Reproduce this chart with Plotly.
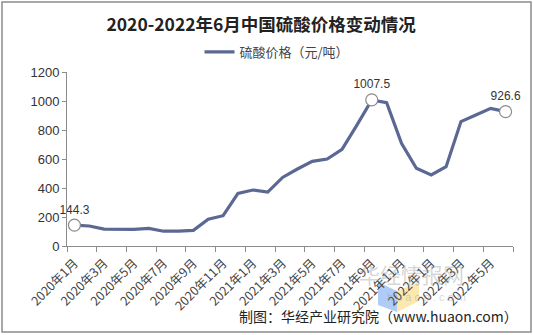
import plotly.graph_objects as go

# Monthly sulfuric acid price, Jan 2020 - Jun 2022 (yuan/ton)
months = [f"{y}年{m}月" for y in (2020, 2021, 2022) for m in range(1, 13)][:30]
prices = [144.3, 138, 116, 115, 115, 121, 102, 102, 108, 184,
          209, 363, 386, 372, 473, 531, 584, 600, 667, 834,
          1007.5, 988, 708, 536, 490, 547, 858, 903, 949, 926.6]
labelled_idx = [0, 20, 29]

x_idx = list(range(len(months)))
tick_idx = x_idx[::2]
tick_text = [months[i] for i in tick_idx]

LINE = "#5b6894"
TXT = "#333333"
AX = "#8c8c8c"

# plot area in pixels: x 67..513, y 72..246
L, R, T, B = 67, 513, 72, 246


def px(x):
    return (x - L) / (R - L)


def py(y):
    return (B - y) / (B - T)


fig = go.Figure()
fig.add_trace(go.Scatter(
    x=x_idx, y=prices, mode="lines", name="硫酸价格（元/吨）",
    line=dict(color=LINE, width=3.2), hoverinfo="skip",
))
fig.add_trace(go.Scatter(
    x=[x_idx[i] for i in labelled_idx], y=[prices[i] for i in labelled_idx],
    mode="markers+text", showlegend=False, cliponaxis=False,
    marker=dict(size=12, color="white", line=dict(color="#8a8a8a", width=1.2)),
    text=[f"{prices[i]:g}" for i in labelled_idx], textposition="top center",
    textfont=dict(family="Liberation Sans, Arial", size=12, color=TXT),
))

fig.update_layout(
    width=533, height=335,
    margin=dict(l=L, r=533 - R, t=T, b=335 - B),
    paper_bgcolor="white", plot_bgcolor="white",
    title=dict(text="<b>2020-2022年6月中国硫酸价格变动情况</b>", x=0.49, xanchor="center",
               y=1 - 25 / 335, yanchor="middle",
               font=dict(family="Noto Sans CJK SC", size=17.5, color="#222222")),
    legend=dict(orientation="h", x=px(277), xanchor="center", y=py(52), yanchor="middle",
                font=dict(family="Noto Sans CJK SC", size=13, color="#444444"),
                itemwidth=30),
    xaxis=dict(range=[-0.5, 29.5], tickmode="array", tickvals=tick_idx, ticktext=tick_text,
               tickangle=-45, ticks="", showgrid=False, zeroline=False,
               showline=True, linecolor=AX, linewidth=1, ticklabelstandoff=4,
               tickfont=dict(family="Noto Sans CJK SC", size=12.5, color="#444444"),
               minor=dict(tickmode="linear", tick0=-0.5, dtick=2, ticks="outside",
                          ticklen=5, tickcolor=AX, showgrid=False)),
    yaxis=dict(range=[0, 1200], dtick=200, showgrid=False, zeroline=False,
               showline=True, linecolor=AX, linewidth=1,
               ticks="outside", ticklen=4, tickcolor=AX,
               tickfont=dict(family="Liberation Sans, Arial", size=13, color=TXT)),
)

# outer frame
fig.add_shape(type="rect", xref="paper", yref="paper",
              x0=px(2), x1=px(531), y0=py(332), y1=py(2),
              line=dict(color="#8c8c8c", width=1.5), fillcolor="rgba(0,0,0,0)")


def poly(points):
    return "M " + " L ".join(f"{px(a):.4f},{py(b):.4f}" for a, b in points) + " Z"


# faint site logo
fig.add_shape(type="path", xref="paper", yref="paper", layer="below",
              path=poly([(378, 282), (397, 291), (397, 312), (378, 305)]),
              fillcolor="rgba(110,160,240,0.55)", line=dict(width=0))
fig.add_shape(type="path", xref="paper", yref="paper", layer="below",
              path=poly([(397, 291), (419, 282), (419, 301), (397, 312)]),
              fillcolor="rgba(250,215,110,0.55)", line=dict(width=0))
fig.add_annotation(xref="paper", yref="paper", x=px(466), y=py(291), text="华经情报网",
                   showarrow=False, font=dict(family="Noto Sans CJK SC", size=21,
                                              color="rgba(150,150,150,0.4)"))
fig.add_annotation(xref="paper", yref="paper", x=px(468), y=py(305), text="h u a o n . c o m",
                   showarrow=False, font=dict(family="Liberation Sans", size=11,
                                              color="rgba(150,150,150,0.4)"))

# source note
fig.add_annotation(xref="paper", yref="paper", x=px(520), xanchor="right", y=py(316),
                   yanchor="middle",
                   text="制图：华经产业研究院（www.huaon.com）", showarrow=False,
                   font=dict(family="Noto Sans CJK SC", size=14, color="#222222"))

fig.write_html("out.html")
